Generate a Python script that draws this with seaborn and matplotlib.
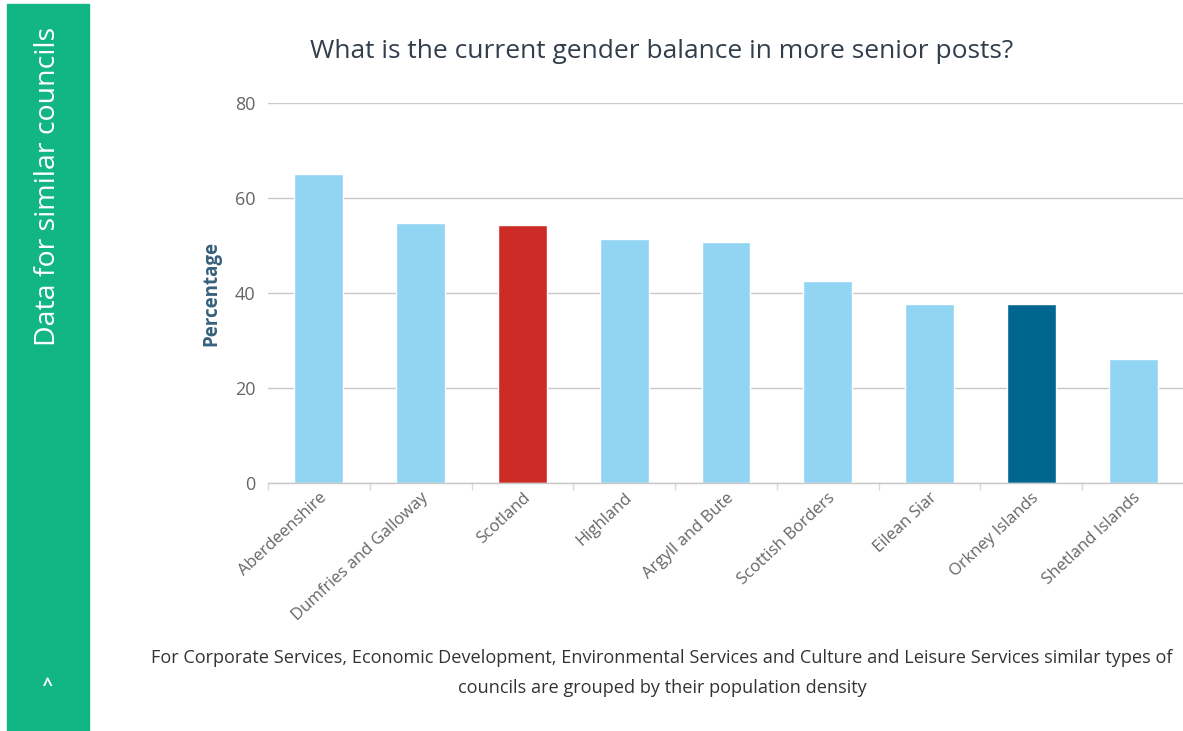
import numpy as np
import pandas as pd
import seaborn as sns
import matplotlib.pyplot as plt
from matplotlib.patches import Rectangle
from matplotlib.ticker import FixedLocator

councils = ['Aberdeenshire', 'Dumfries and Galloway', 'Scotland', 'Highland',
            'Argyll and Bute', 'Scottish Borders', 'Eilean Siar',
            'Orkney Islands', 'Shetland Islands']
percentages = [65.1, 54.8, 54.4, 51.4, 50.7, 42.5, 37.7, 37.7, 26.1]
bar_colors = ['#92d5f2', '#92d5f2', '#cc2b26', '#92d5f2', '#92d5f2',
              '#92d5f2', '#92d5f2', '#00658f', '#92d5f2']
y_ticks = [0, 20, 40, 60, 80]

title = 'What is the current gender balance in more senior posts?'
footnote = ('For Corporate Services, Economic Development, Environmental Services and '
            'Culture and Leisure Services similar types of\n'
            'councils are grouped by their population density')

sns.set_theme(style='white')
plt.rcParams['font.family'] = ['Open Sans', 'DejaVu Sans']

df = pd.DataFrame({'council': councils, 'pct': percentages})

fig = plt.figure(figsize=(11.83, 7.31), dpi=100)
fig.patch.set_facecolor('white')

# green side panel
fig.patches.append(Rectangle((7 / 1183, 0), 82 / 1183, 1 - 4 / 731,
                             transform=fig.transFigure, color='#12b584', zorder=0))
fig.text(48 / 1183, 1 - 186 / 731, 'Data for similar councils', rotation=90,
         color='white', fontsize=20.5, ha='center', va='center')
fig.text(48 / 1183, 1 - 686 / 731, '^', color='white', fontsize=13,
         fontweight='bold', ha='center', va='center')

ax = fig.add_axes([268 / 1183, 248 / 731, 916 / 1183, 379.7 / 731])
sns.barplot(data=df, x='council', y='pct', hue='council', palette=bar_colors,
            width=0.48, legend=False, saturation=1, ax=ax)

ax.set_ylim(0, 80)
ax.set_xlim(-0.5, len(councils) - 0.5)
ax.set_yticks(y_ticks)
ax.yaxis.grid(True, color='#c8c8c8', linewidth=1)
ax.set_axisbelow(True)
for s in ['top', 'right', 'left']:
    ax.spines[s].set_visible(False)
ax.spines['bottom'].set_color('#c8c8c8')
ax.spines['bottom'].set_linewidth(1)

ax.tick_params(axis='y', length=0, pad=9, labelsize=13, labelcolor='#666666')
ax.tick_params(axis='x', which='major', length=0, pad=5)
ax.xaxis.set_minor_locator(FixedLocator(np.arange(-0.5, len(councils), 1.0)))
ax.tick_params(axis='x', which='minor', length=5, width=1, color='#d8d8d8',
               bottom=True)
ax.set_xticks(range(len(councils)))
ax.set_xticklabels(councils, rotation=43, ha='right', rotation_mode='anchor',
                   fontsize=12, color='#666666')

ax.set_xlabel('')
ax.set_ylabel('Percentage', fontsize=13.5, fontweight='bold', color='#36607c',
              labelpad=10)

fig.text(662 / 1183, 1 - 52 / 731, title, fontsize=19, color='#333e4c',
         ha='center', va='center')
fig.text(662 / 1183, 1 - 673 / 731, footnote, fontsize=13.1, color='#333333',
         ha='center', va='center', linespacing=1.85)

fig.savefig('out.png', dpi=100, facecolor='white')
